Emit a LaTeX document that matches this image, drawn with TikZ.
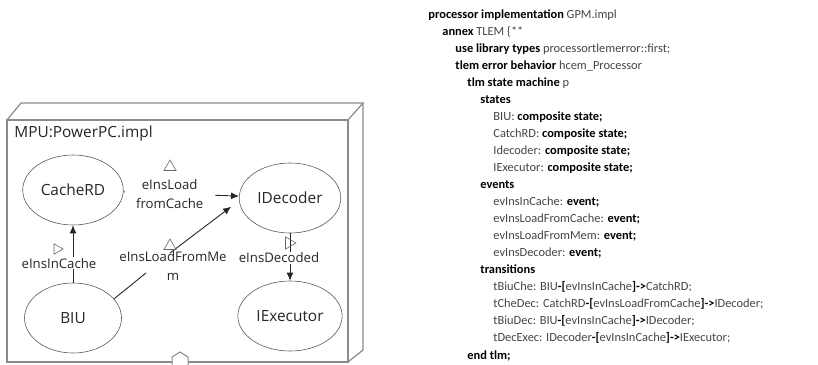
\documentclass[tikz,border=0pt]{standalone}
\usepackage{fontspec}
\setmainfont{Carlito}
\newfontfamily\osans{Open Sans}
\usetikzlibrary{automata,arrows.meta,positioning,shapes.geometric}
\definecolor{boxgray}{HTML}{8A8A8A}
\definecolor{idgray}{HTML}{444444}
\newcommand*{\kw}[1]{\textcolor{black}{\bfseries #1}}

\begin{document}
\begin{tikzpicture}[->, >={Latex[length=8pt,width=7pt]}, line width=0.9pt, x=1pt, y=-1pt, node distance=128pt]
\tikzstyle{every state}=[ellipse,fill=white,draw=black!65,line width=0.6pt,text=black!85,minimum width=97pt,minimum height=70pt,font=\osans\fontsize{15.4}{18}\selectfont]
\tikzstyle{evlabel}=[fill=white,inner sep=1pt,text=black!85,font=\osans\fontsize{13.2}{19}\selectfont,align=center]
\tikzstyle{evmark}=[regular polygon,regular polygon sides=3,draw=black!60,fill=white,line width=0.6pt,inner sep=0pt,minimum size=14pt]
\useasboundingbox (0,0) rectangle (818,364);
% the MPU box
\draw[-,boxgray,line width=1.2pt] (7,120) rectangle (348,362);
\draw[-,boxgray,line width=1.2pt] (7,120) -- (21,103) -- (363,103) -- (348,120);
\draw[-,boxgray,line width=1.2pt] (363,103) -- (363,350) -- (348,362);
\draw[-,boxgray,fill=white,line width=1pt] (172,365) -- (172,357) -- (180,352) -- (188,357) -- (188,365);
\node[anchor=west,inner sep=0pt,text=black!85,font=\osans\fontsize{15.4}{18}\selectfont] (mpu) at (14,133) {MPU:PowerPC.impl};
% states
\node[state]    (cache)   at (73,190)                                   {CacheRD};
\node[state]    (idec)    [right of=cache, node distance=217pt, yshift=-8pt] {IDecoder};
\node[state]    (biu)     [below of=cache]                              {BIU};
\node[state]    (iexec)   [below of=idec, node distance=118pt]          {IExecutor};
\coordinate (memA) at (146,273);
\coordinate (memB) at (170,253);
\path[black!85]
(biu)   edge    node[evlabel, pos=0.34, xshift=-14pt] (lbInCache) {eInsInCache}            (cache)
(cache) edge    node[evlabel, pos=0.4, minimum width=90pt] (lbFromCache) {eInsLoad\\fromCache} (idec)
(idec)  edge    node[evlabel, pos=0.52, xshift=-11pt] (lbDecoded) {eInsDecoded}            (iexec)
(biu.25) edge[-]                (memA)
(memB)  edge[shorten >=10pt]    (idec.183);
\node[evlabel, fill=none] (lbFromMem) at (173,266) {eInsLoadFromMe\\m};
% event markers
\node[evmark]                                   (mkFromCache) at (170,167) {};
\node[evmark, fill=none]                        (mkFromMem)   at (170,246) {};
\node[evmark, shape border rotate=-90, minimum size=12pt] (mkInCache) at (57,249) {};
\node[evmark, shape border rotate=-90, fill=none] (mkDecoded) at (289,243) {};
% AADL annex text
\node[anchor=base west, align=left, inner sep=0pt, text=idgray, font=\fontsize{12.4}{17.05}\selectfont] (code) at (428,359) {%
\kw{processor implementation} GPM.impl\\
\hspace*{14pt}\kw{annex} TLEM \{**\\
\hspace*{27pt}\kw{use library types} processortlemerror::first;\\
\hspace*{27pt}\kw{tlem error behavior} hcem\_Processor\\
\hspace*{39pt}\kw{tlm state machine} p\\
\hspace*{52pt}\kw{states}\\
\hspace*{65pt}BIU: \kw{composite state;}\\
\hspace*{65pt}CatchRD: \kw{composite state;}\\
\hspace*{65pt}Idecoder: \kw{composite state;}\\
\hspace*{65pt}IExecutor: \kw{composite state;}\\
\hspace*{52pt}\kw{events}\\
\hspace*{65pt}evInsInCache: \kw{event;}\\
\hspace*{65pt}evInsLoadFromCache: \kw{event;}\\
\hspace*{65pt}evInsLoadFromMem: \kw{event;}\\
\hspace*{65pt}evInsDecoder: \kw{event;}\\
\hspace*{52pt}\kw{transitions}\\
\hspace*{65pt}tBiuChe: BIU\kw{-[}evInsInCache\kw{]->}CatchRD;\\
\hspace*{65pt}tCheDec: CatchRD\kw{-[}evInsLoadFromCache\kw{]->}IDecoder;\\
\hspace*{65pt}tBiuDec: BIU\kw{-[}evInsInCache\kw{]->}IDecoder;\\
\hspace*{65pt}tDecExec: IDecoder\kw{-[}evInsInCache\kw{]->}IExecutor;\\
\hspace*{39pt}\kw{end tlm;}};
\end{tikzpicture}
\end{document}
